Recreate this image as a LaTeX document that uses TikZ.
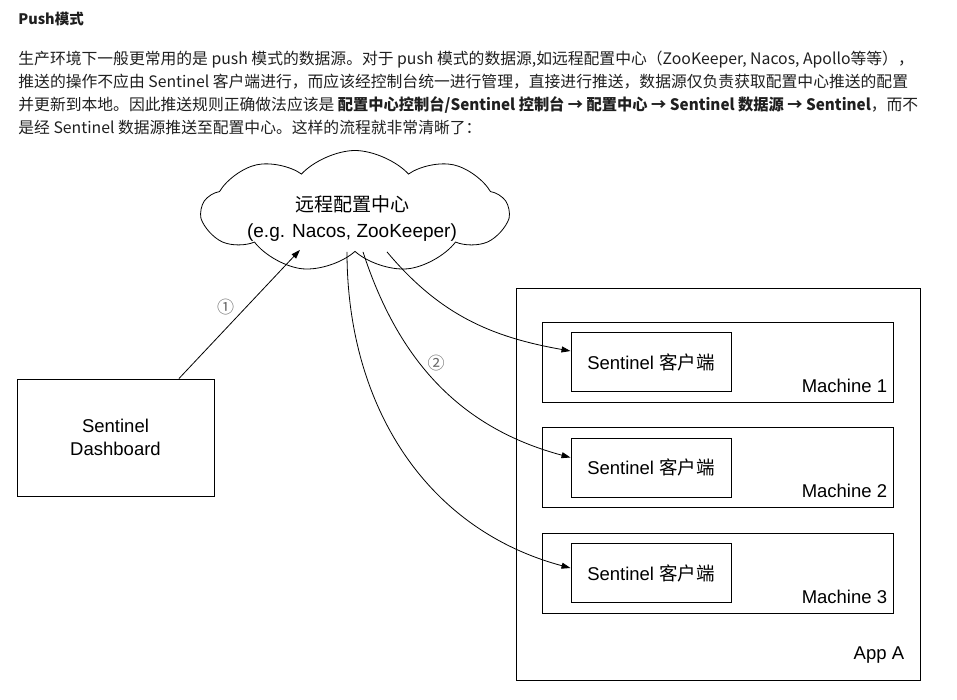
\documentclass[tikz,border=0pt]{standalone}
\usepackage{fontspec}
\setmainfont{Noto Sans CJK SC}
\newfontfamily\lib{Liberation Sans}
\newfontfamily\cjk{Noto Sans CJK SC}
\usepackage{tikz}
\usetikzlibrary{arrows.meta,shapes.symbols,calc}
\definecolor{bodytext}{HTML}{1F1F1F}
\definecolor{numgray}{HTML}{666666}
\tikzset{
  para/.style={anchor=base west, inner sep=0pt, text=bodytext, font=\fontsize{15.8}{18}\selectfont},
  box/.style={draw, line width=1pt, inner sep=0pt},
  lbl/.style={font=\lib\fontsize{18.5}{23}\selectfont},
  num/.style={text=numgray, font=\cjk\fontsize{17}{20}\selectfont},
  >={Triangle[length=9pt,width=6pt]},
}

\begin{document}
\begin{tikzpicture}[x=1pt,y=-1pt,line width=0.8pt]
\useasboundingbox (0,0) rectangle (957,699);

% text above the picture
\node[para, font=\bfseries\fontsize{14.5}{17}\selectfont] (title) at (18,24) {Push模式};
\node[para] (l1) at (18,64) {生产环境下一般更常用的是 push 模式的数据源。对于 push 模式的数据源,如远程配置中心（ZooKeeper, Nacos, Apollo等等），};
\node[para] (l2) at (18,87) {推送的操作不应由 Sentinel 客户端进行，而应该经控制台统一进行管理，直接进行推送，数据源仅负责获取配置中心推送的配置};
\node[para] (l3) at (18,110) {并更新到本地。因此推送规则正确做法应该是 \scalebox{0.965}[1]{\bfseries 配置中心控制台/Sentinel 控制台 → 配置中心 → Sentinel 数据源 → Sentinel}，而不};
\node[para] (l4) at (18,133) {是经 Sentinel 数据源推送至配置中心。这样的流程就非常清晰了：};

\node[cloud, draw, cloud puffs=9, cloud puff arc=95, cloud ignores aspect,
      minimum width=306pt, minimum height=122pt, inner sep=0pt] (zk) at (355,211.5) {};
\node[lbl, align=center, font=\lib\fontsize{19}{26}\selectfont] (zktext) at (352,218)
      {{\cjk 远程配置中心}\\(e.g. Nacos, ZooKeeper)};

\node[box, minimum width=197pt, minimum height=117pt, align=center, lbl] (dash) at (115.5,437.5) {Sentinel\\Dashboard};

\node[box, minimum width=404pt, minimum height=392pt] (app) at (718,484) {};
\node[lbl, anchor=east, inner sep=0pt] at ([shift={(-16pt,25pt)}]app.south east) {App A};

\foreach \i/\y in {1/362,2/467.5,3/573}{
  \node[box, minimum width=351pt, minimum height=80pt] (m\i) at (717.5,\y) {};
  \node[lbl, anchor=east, inner sep=0pt] at ([shift={(-6pt,17pt)}]m\i.south east) {Machine \i};
  \node[box, minimum width=160pt, minimum height=59pt, lbl] (c\i) at (651,\y) {Sentinel {\cjk 客户端}};
}

\node[num] (n2) at (436,363) {②};

%\path[->,font=\scriptsize]
\path[->]
([xshift=63.5pt]dash.north) edge node[num, xshift=-14pt, yshift=7pt]{①} ([shift={(-55pt,2pt)}]zk.south)
([xshift=32pt]zk.south) edge[out=-50, in=170] ([yshift=11pt]c1.west)
([xshift=8pt]zk.south) edge[out=-72, in=165] ([yshift=10pt]c2.west)
([xshift=-8pt]zk.south) edge[out=-90, in=165] ([yshift=5pt]c3.west)
;
\end{tikzpicture}
\end{document}
